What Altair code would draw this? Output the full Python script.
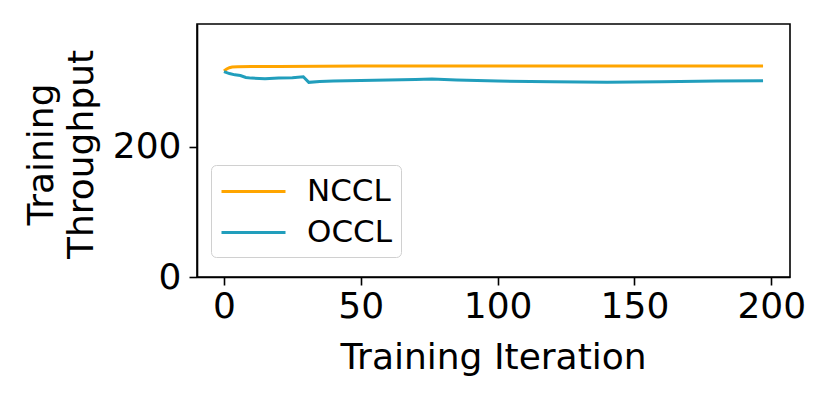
import altair as alt
import pandas as pd

series_names = ["NCCL", "OCCL"]
colors = ["#ffa500", "#219ebc"]

nccl_iter = [0, 1, 2, 3, 5, 10, 20, 50, 100, 150, 197]
nccl_vals = [316, 319, 321, 322, 322.5, 323, 323, 323.5, 323.5, 323.5, 323.5]

occl_iter = [0, 2, 4, 6, 8, 10, 15, 20, 25, 29, 31, 35, 40, 50, 60, 70, 76, 85,
             100, 120, 140, 160, 180, 197]
occl_vals = [315, 312, 310, 309, 306, 305, 304, 305, 305.5, 307, 298.5, 300,
             300.5, 301.5, 302, 303, 303.5, 302, 300.5, 299.5, 298.5, 299.5,
             300.5, 301]

x_ticks = [0, 50, 100, 150, 200]
y_ticks = [0, 200]

df = pd.concat([
    pd.DataFrame({"iter": nccl_iter, "val": nccl_vals, "series": "NCCL"}),
    pd.DataFrame({"iter": occl_iter, "val": occl_vals, "series": "OCCL"}),
])

FONT = "DejaVu Sans"

chart = alt.Chart(df).mark_line(strokeWidth=3).encode(
    x=alt.X("iter:Q",
            scale=alt.Scale(domain=[-9.85, 206.85], nice=False, zero=False),
            axis=alt.Axis(values=x_ticks, title="Training Iteration",
                          titleX=296, titleY=91, titleBaseline="alphabetic",
                          titleAlign="center", labelPadding=4)),
    y=alt.Y("val:Q",
            scale=alt.Scale(domain=[0, 388], nice=False),
            axis=alt.Axis(values=y_ticks, title=["Training", "Throughput"],
                          titleX=-145, titleY=130, titleAngle=270,
                          titleBaseline="alphabetic", titleAlign="center",
                          titleLineHeight=40, labelPadding=8)),
    color=alt.Color("series:N",
                    scale=alt.Scale(domain=series_names, range=colors),
                    legend=alt.Legend(orient="none", legendX=14, legendY=141,
                                      title=None, symbolType="M-2,0L2,0",
                                      symbolSize=1024, symbolStrokeWidth=3,
                                      symbolOffset=16,
                                      labelFontSize=31, labelFont=FONT,
                                      labelColor="black", labelOffset=36,
                                      padding=9, rowPadding=8,
                                      strokeColor="#d0d0d0", fillColor="white",
                                      cornerRadius=5)),
).properties(
    width=593, height=253,
    autosize="none",
    padding={"left": 189, "top": 16, "right": 24, "bottom": 100},
).configure_view(
    stroke="black", strokeWidth=1.6
).configure_axis(
    grid=False, domainColor="black", domainWidth=1.6,
    tickColor="black", tickWidth=1.6, tickSize=8,
    labelFont=FONT, labelFontSize=36, labelColor="black",
    titleFont=FONT, titleFontSize=36, titleColor="black",
    titleFontWeight="normal",
)

chart.save("out.html", embed_options={"renderer": "svg", "actions": False})
